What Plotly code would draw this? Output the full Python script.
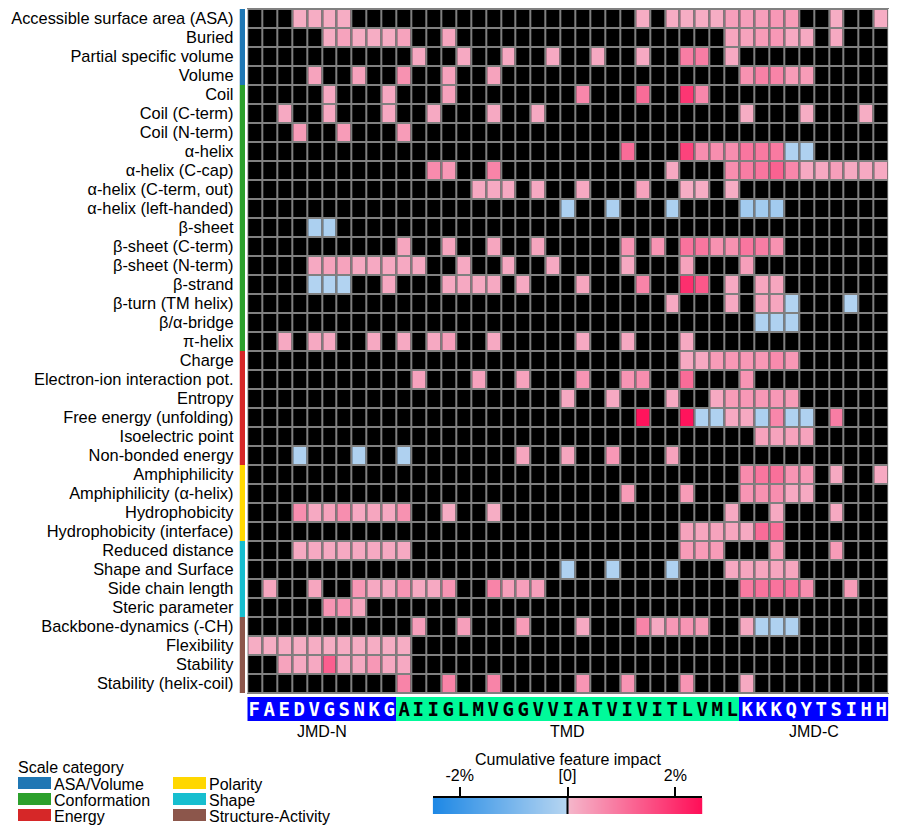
import plotly.graph_objects as go

# ---------------- data ----------------
jmd_n = "FAEDVGSNKG"
tmd = "AIIGLMVGGVVIATVIVITLVML"
jmd_c = "KKKQYTSIHH"
part_labels = ["JMD-N", "TMD", "JMD-C"]

category_names = ["ASA/Volume", "Conformation", "Energy", "Polarity", "Shape", "Structure-Activity"]
category_colors = ["#1F77B4", "#2CA02C", "#D62728", "#FFD700", "#17BECF", "#8C564B"]

features_asa = ["Accessible surface area (ASA)", "Buried", "Partial specific volume", "Volume"]
features_conf = ["Coil", "Coil (C-term)", "Coil (N-term)", "α-helix", "α-helix (C-cap)",
                 "α-helix (C-term, out)", "α-helix (left-handed)", "β-sheet", "β-sheet (C-term)",
                 "β-sheet (N-term)", "β-strand", "β-turn (TM helix)", "β/α-bridge", "π-helix"]
features_energy = ["Charge", "Electron-ion interaction pot.", "Entropy", "Free energy (unfolding)",
                   "Isoelectric point", "Non-bonded energy"]
features_polarity = ["Amphiphilicity", "Amphiphilicity (α-helix)", "Hydrophobicity", "Hydrophobicity (interface)"]
features_shape = ["Reduced distance", "Shape and Surface", "Side chain length", "Steric parameter"]
features_sa = ["Backbone-dynamics (-CH)", "Flexibility", "Stability", "Stability (helix-coil)"]

# feature impact (%) per residue position (1-based), positions not listed = 0
impact_asa = [
    {4: .15, 5: .15, 6: .15, 7: .15, 27: .15, 29: .15, 30: .15, 31: .15, 32: .15, 33: .35, 34: .35, 35: .35, 36: .45, 37: .4, 40: .15, 43: .15},
    {6: .15, 7: .3, 8: .15, 9: .15, 10: .15, 11: .3, 14: .25, 33: .25, 34: .3, 35: .4, 36: .45, 37: .2, 38: .2, 40: .2},
    {12: .2, 15: .2, 18: .2, 21: .2, 24: .2, 27: .2, 30: .85, 31: .85, 33: .2},
    {5: .3, 8: .3, 11: .55, 14: .3, 17: .3, 34: .55, 35: .8, 36: .75, 37: .4, 38: .4},
]
impact_conf = [
    {6: .2, 10: .2, 14: .3, 23: .7, 27: 1.1, 30: 1.9, 31: .7},
    {3: .2, 6: .2, 10: .2, 13: .2, 17: .2, 20: .2, 34: .15, 38: .15, 42: .15},
    {4: .4, 7: .4, 11: .4},
    {26: 1.1, 30: 1.7, 31: .6, 32: .6, 33: .6, 34: .95, 35: .9, 36: .9, 37: -.15, 38: -.15},
    {13: .65, 14: .45, 17: .75, 29: .2, 33: .6, 34: .85, 35: .95, 36: 1.25, 37: .7, 38: .2, 39: .2, 40: .35, 41: .2, 42: .2, 43: .2},
    {16: .2, 17: .2, 18: .2, 20: .2, 23: .2, 27: .3, 30: .15, 31: .15, 33: .15},
    {22: -.2, 25: -.2, 29: -.2, 34: -.35, 35: -.35, 36: -.35},
    {5: -.2, 6: -.2},
    {11: .25, 14: .25, 17: .25, 20: .25, 26: .5, 28: .5, 30: 1.0, 31: .95, 32: .55, 33: .55, 34: .95, 35: .85, 36: .55},
    {5: .2, 6: .3, 7: .3, 8: .2, 9: .2, 10: .2, 11: .2, 12: .2, 15: .2, 18: .2, 21: .2, 26: .2, 30: .3, 34: .35},
    {5: -.1, 6: -.1, 7: -.1, 10: .2, 14: .2, 15: .2, 16: .2, 17: .2, 19: .2, 23: .25, 27: .75, 30: 2.0, 31: 1.4, 33: .2, 35: .25, 36: .25},
    {29: .2, 33: .2, 35: .25, 36: .25, 37: -.1, 41: -.1},
    {35: -.15, 36: -.15, 37: -.15},
    {3: .2, 5: .2, 6: .2, 9: .2, 11: .2, 13: .2, 14: .35, 17: .2, 23: .2, 26: .2, 30: .2},
]
impact_energy = [
    {30: .2, 31: .2, 32: .4, 33: .45, 34: .45, 35: .45, 36: .65, 37: .45},
    {12: .3, 16: .3, 19: .3, 23: .5, 26: .5, 27: .6, 30: 1.1, 34: .5},
    {22: .2, 25: .2, 29: .2, 32: .2, 33: .4, 34: .45, 35: .45, 36: .45, 37: .4},
    {27: 2.4, 30: 2.4, 31: -.15, 32: -.15, 33: .2, 34: .2, 35: -.2, 36: .7, 37: -.15, 38: -.15, 40: .85},
    {35: .3, 36: .3, 37: .3, 38: .3},
    {4: -.15, 8: -.15, 11: -.15, 19: .25, 22: .25, 25: .45, 29: .3},
]
impact_polarity = [
    {34: .65, 35: .95, 36: 1.05, 37: .5, 38: .45, 40: .2, 43: .2},
    {26: .4, 30: .4, 34: .5, 35: .55, 36: .6, 37: .2, 38: .2},
    {4: .6, 5: .2, 6: .3, 7: .6, 8: .2, 9: .25, 10: .2, 11: .55, 14: .15, 17: .15, 33: .2, 36: .2, 40: .2},
    {30: .3, 31: .25, 32: .3, 33: .25, 34: .2, 35: 1.1, 36: 1.05},
]
impact_shape = [
    {4: .2, 5: .2, 6: .2, 7: .2, 8: .2, 9: .2, 10: .2, 11: .2, 30: .4, 31: .4, 32: .4, 36: .4, 40: .4},
    {22: -.15, 25: -.15, 29: -.15, 33: .2, 34: .25, 35: .25, 36: .25, 37: .25},
    {2: .25, 5: .25, 8: .45, 9: .2, 10: .2, 11: .5, 12: .2, 13: .2, 14: .5, 17: .75, 18: .35, 19: .35, 20: .35,
     34: .9, 35: 1.0, 36: 1.0, 37: .95, 38: .6, 41: .4},
    {6: .5, 7: .5, 8: .25},
]
impact_sa = [
    {12: .35, 15: .35, 19: .4, 23: .2, 27: .75, 28: .2, 29: .45, 30: .5, 31: .4, 34: .2, 35: -.15, 36: -.15, 37: -.15},
    {1: .15, 2: .15, 3: .15, 4: .15, 5: .15, 6: .15, 7: .15, 8: .15, 9: .15, 10: .15, 11: .15},
    {3: .3, 4: .2, 5: .2, 6: 1.3, 7: .2, 8: .2, 9: .45, 10: .2, 11: .2},
    {11: .75, 14: .75, 17: .75, 23: .5, 26: .5, 30: .5, 34: .2},
]

cbar_ticks = [-2, 0, 2]
cbar_ticktext = ["-2%", "[0]", "2%"]
cbar_title = "Cumulative feature impact"
zlim = 2.5

# ---------------- build ----------------
groups = [(features_asa, impact_asa), (features_conf, impact_conf), (features_energy, impact_energy),
          (features_polarity, impact_polarity), (features_shape, impact_shape), (features_sa, impact_sa)]
features, rows, row_cat = [], [], []
for gi, (fn, imp) in enumerate(groups):
    features += fn
    rows += imp
    row_cat += [gi] * len(fn)

seq = jmd_n + tmd + jmd_c
n = len(seq)
positions = list(range(1, n + 1))
z_vals = [[(r.get(p) if r.get(p, 0) != 0 else None) for p in positions] for r in rows]
z_base = [[0] * n for _ in rows]

FONT = "Arial, Liberation Sans, sans-serif"
W, H = 897, 833
gx0, gx1, gy0, gy1 = 247.3, 888.5, 9, 693
px = lambda v: v / W
py = lambda v: 1 - v / H
cb_x0, cb_x1, cb_y0, cb_y1 = 432.7, 702.3, 798, 814

cs = [[0, "#1E88E5"], [0.4999, "#B8D6F1"], [0.5001, "#F5B7CB"], [1, "#FF0D57"]]

fig = go.Figure()
# grey grid background, black empty cells, coloured impact cells
fig.add_trace(go.Heatmap(x=positions, y=features, z=z_base, colorscale=[[0, "#808080"], [1, "#808080"]],
                         showscale=False, hoverinfo="skip"))
fig.add_trace(go.Heatmap(x=positions, y=features, z=z_base, colorscale=[[0, "black"], [1, "black"]],
                         showscale=False, xgap=2, ygap=2, hoverinfo="skip"))
fig.add_trace(go.Heatmap(x=positions, y=features, z=z_vals, zmin=-zlim, zmax=zlim, colorscale=cs,
                         xgap=2, ygap=2, showscale=False, hoverinfo="skip"))

# colour scale legend: gradient between the scale limits on its own axis (ticks on top)
fig.add_trace(go.Heatmap(x=[-zlim, zlim], y=[0.5], z=[[-zlim, zlim]], zmin=-zlim, zmax=zlim, colorscale=cs,
                         zsmooth="best", showscale=False, xaxis="x4", yaxis="y4", hoverinfo="skip"))
fig.add_trace(go.Scatter(x=[0, 0], y=[0, 1], mode="lines", line=dict(color="black", width=2),
                         xaxis="x4", yaxis="y4", hoverinfo="skip"))
fig.add_annotation(x=px((cb_x0 + cb_x1) / 2), y=py(759), xref="paper", yref="paper", text=cbar_title,
                   showarrow=False, xanchor="center", yanchor="middle",
                   font=dict(size=16, family=FONT, color="black"))

# category strip
strip_cs = []
for k, c in enumerate(category_colors):
    strip_cs += [[k / 6, c], [(k + 1) / 6, c]]
fig.add_trace(go.Heatmap(x=[0], y=features, z=[[c + 0.5] for c in row_cat], zmin=0, zmax=6,
                         colorscale=strip_cs, showscale=False, xaxis="x3", yaxis="y", hoverinfo="skip"))

# sequence bar
part_len = [len(jmd_n), len(tmd), len(jmd_c)]
part_of = [0] * part_len[0] + [1] * part_len[1] + [2] * part_len[2]
for is_tmd, color, tcolor in [(False, "#0000FF", "white"), (True, "#00FA9A", "black")]:
    zz = [[(1 if ((part_of[i] == 1) == is_tmd) else None) for i in range(n)]]
    tt = [[(seq[i] if ((part_of[i] == 1) == is_tmd) else "") for i in range(n)]]
    fig.add_trace(go.Heatmap(x=positions, y=[0], z=zz, text=tt, texttemplate="%{text}",
                             textfont=dict(family="DejaVu Sans Mono", size=19, color=tcolor, weight="bold"),
                             colorscale=[[0, color], [1, color]], showscale=False,
                             xaxis="x2", yaxis="y2", hoverinfo="skip"))

# part labels under sequence
starts = [1, 1 + part_len[0], 1 + part_len[0] + part_len[1]]
for lab, s, L in zip(part_labels, starts, part_len):
    fig.add_annotation(x=s + (L - 1) / 2, y=py(731), xref="x2", yref="paper", text=lab, showarrow=False,
                       font=dict(size=16, family=FONT, color="black"), yanchor="middle")

# legend
fig.add_annotation(x=px(16), y=py(767), xref="paper", yref="paper", text="Scale category", showarrow=False,
                   xanchor="left", yanchor="middle", font=dict(size=16, family=FONT, color="black"))
for i, (name, col) in enumerate(zip(category_names, category_colors)):
    cx = 18 if i < 3 else 173
    cy = 783 + 16 * (i % 3)
    fig.add_shape(type="rect", xref="paper", yref="paper", x0=px(cx), x1=px(cx + 33),
                  y0=py(cy - 6), y1=py(cy + 6), fillcolor=col, line=dict(width=0))
    fig.add_annotation(x=px(cx + 34), y=py(cy + 1), xref="paper", yref="paper", text=name, showarrow=False,
                       xanchor="left", yanchor="middle", font=dict(size=16, family=FONT, color="black"))

fig.update_layout(
    width=W, height=H, autosize=False, margin=dict(l=0, r=0, t=0, b=0),
    paper_bgcolor="white", plot_bgcolor="white", showlegend=False,
    font=dict(family=FONT, color="black"),
    xaxis=dict(domain=[px(gx0), px(gx1)], range=[0.5, n + 0.5], showticklabels=False, showgrid=False,
               zeroline=False, ticks="", showline=True, mirror=True, linecolor="#808080", linewidth=1),
    yaxis=dict(domain=[py(gy1), py(gy0)], type="category", autorange="reversed", anchor="x3",
               dtick=1, showgrid=False, zeroline=False, ticks="", showline=False, ticklabelstandoff=5,
               tickfont=dict(size=16.4, family=FONT, color="black")),
    xaxis2=dict(domain=[px(gx0), px(gx1)], range=[0.5, n + 0.5], anchor="y2", visible=False),
    yaxis2=dict(domain=[py(721), py(697)], range=[-0.5, 0.5], anchor="x2", visible=False),
    xaxis3=dict(domain=[px(239.5), px(245)], range=[-0.5, 0.5], anchor="y", visible=False),
    xaxis4=dict(domain=[px(cb_x0), px(cb_x1)], range=[-zlim, zlim], anchor="y4", side="top",
                tickvals=cbar_ticks, ticktext=cbar_ticktext, ticks="outside", ticklen=9, tickwidth=1.5,
                tickcolor="black", showline=True, linecolor="black", linewidth=1.5, showgrid=False,
                zeroline=False, tickfont=dict(size=16, family=FONT, color="black")),
    yaxis4=dict(domain=[py(cb_y1), py(cb_y0)], range=[0, 1], anchor="x4", visible=False),
)

fig.write_html("out.html")
